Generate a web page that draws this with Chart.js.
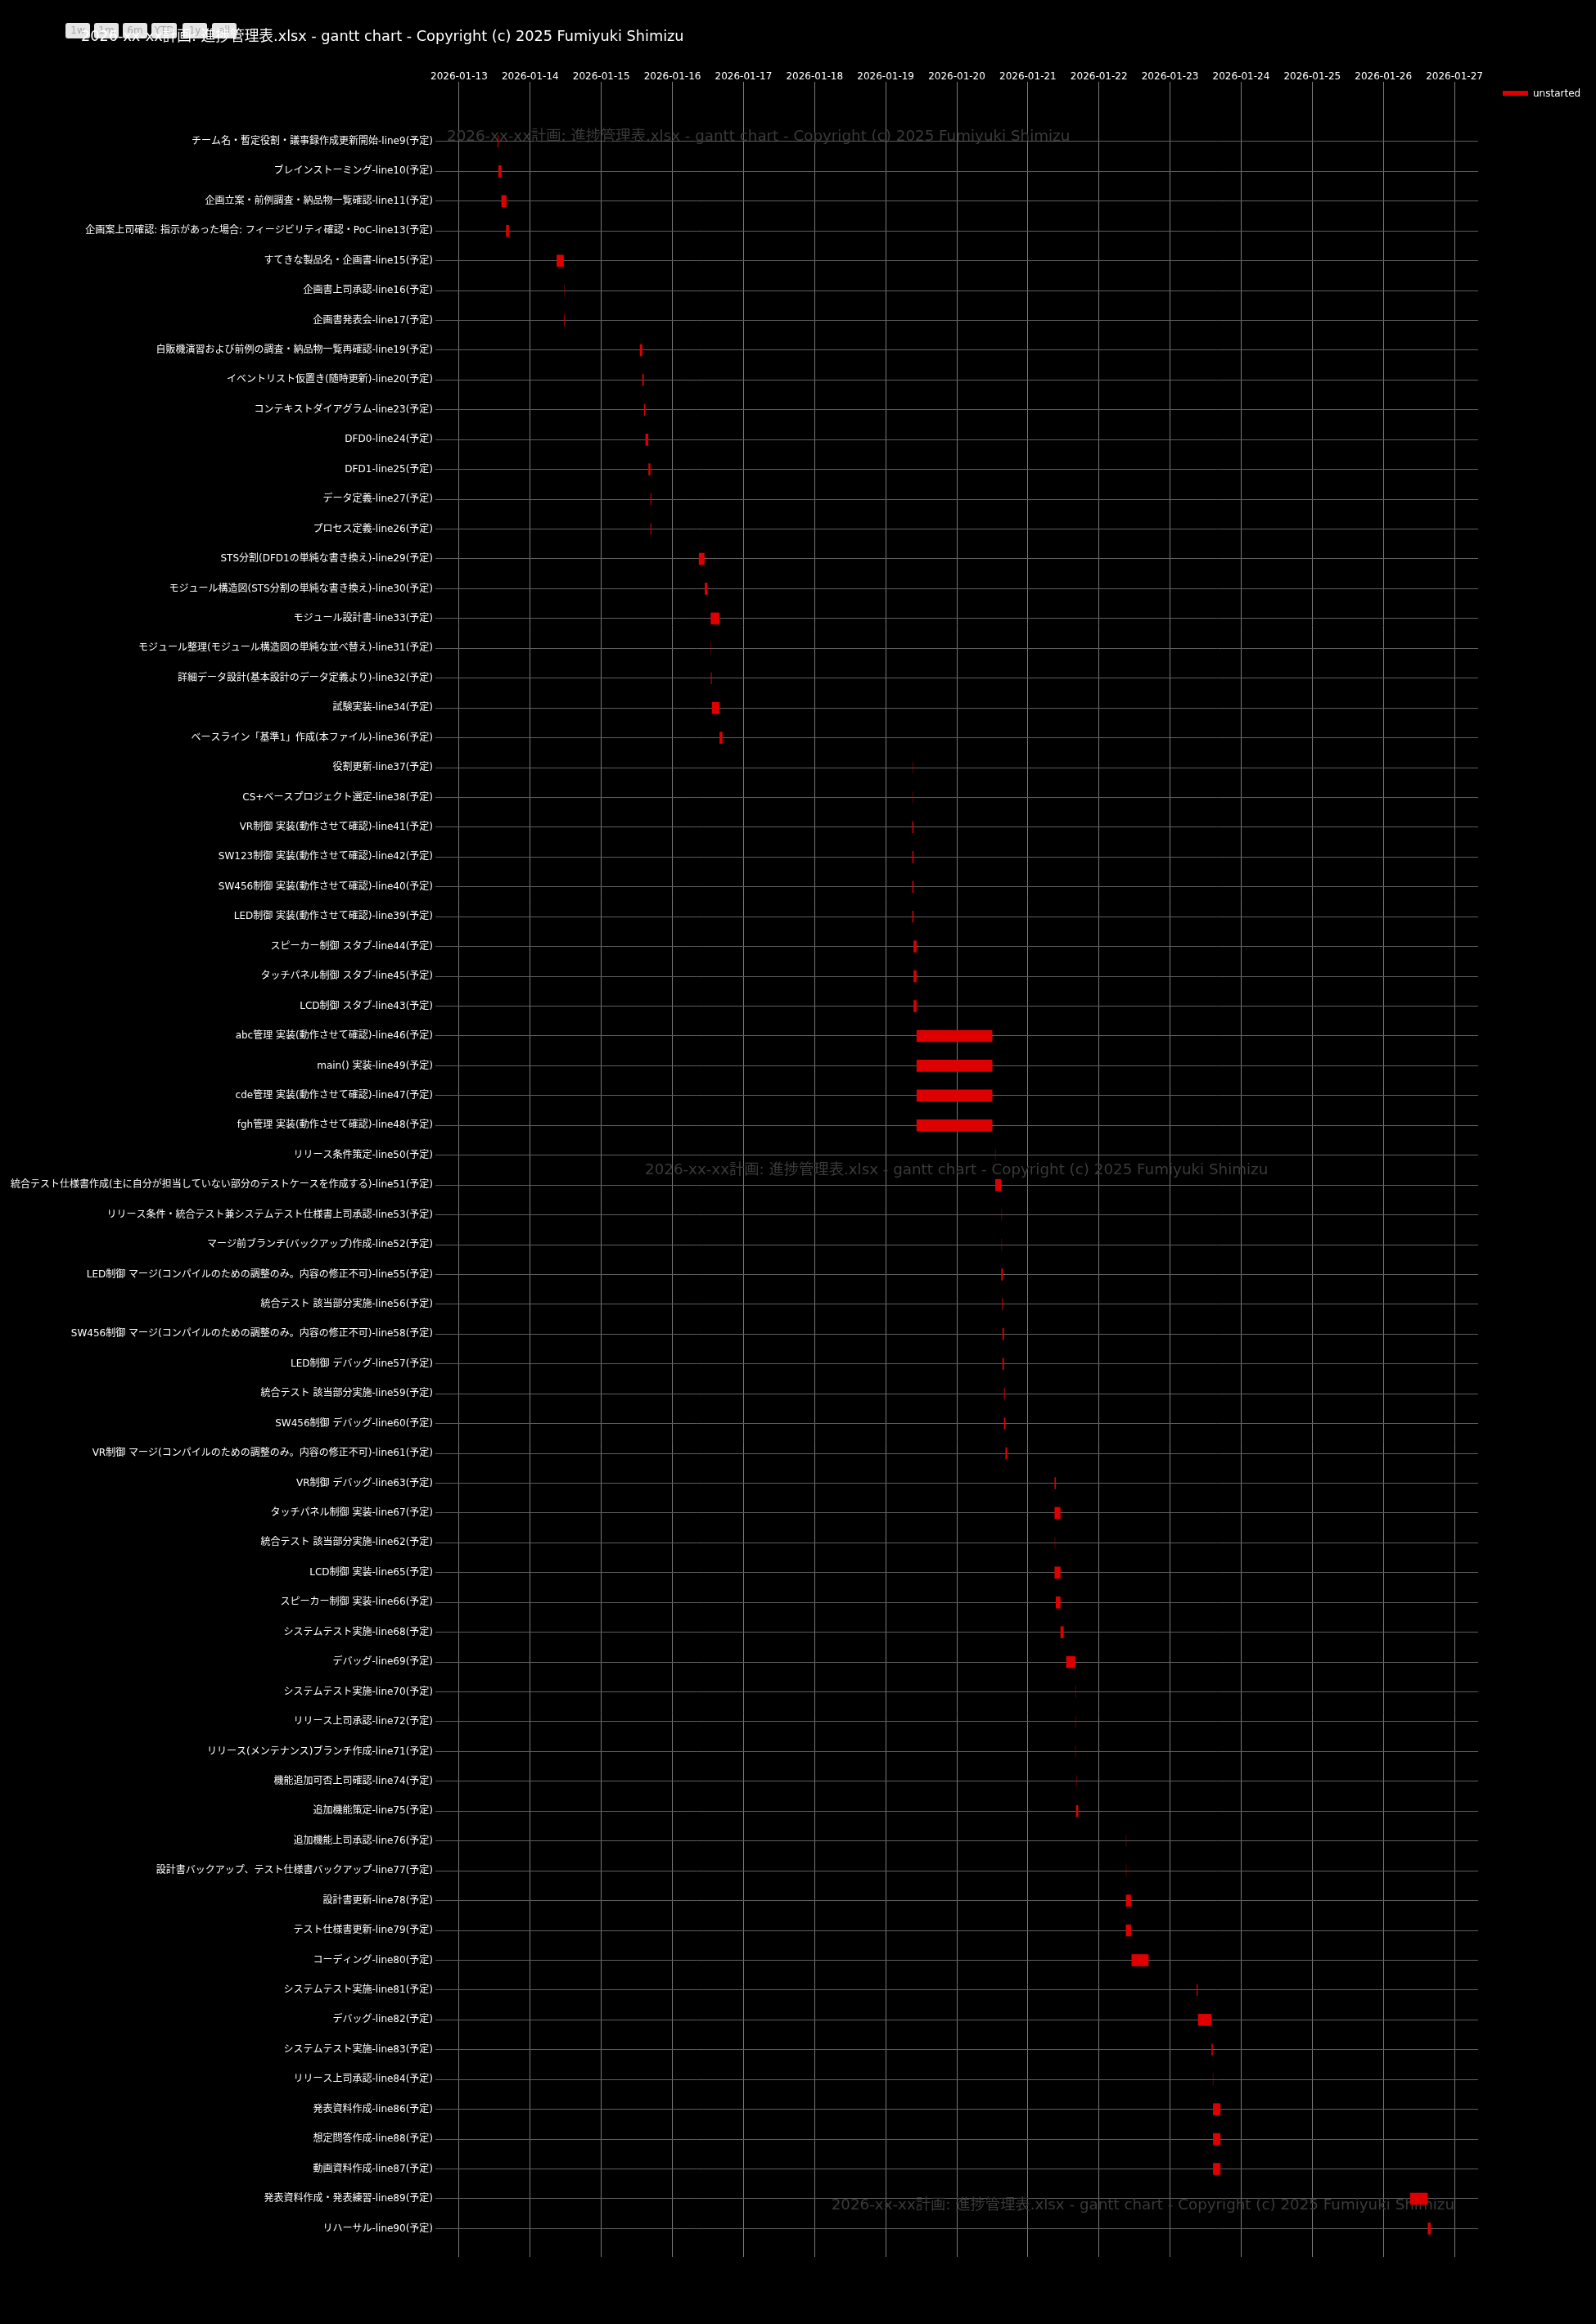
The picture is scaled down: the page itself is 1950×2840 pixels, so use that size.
<!DOCTYPE html>
<html>
<head>
<meta charset="utf-8">
<script src="https://cdn.jsdelivr.net/npm/chart.js@4/dist/chart.umd.min.js"></script>
<style>
  html, body { margin: 0; padding: 0; background: #000; }
  canvas { display: block; }
</style>
</head>
<body>
<canvas id="c" width="1950" height="2840"></canvas>
<script>
const titleText = '2026-xx-xx計画: 進捗管理表.xlsx - gantt chart - Copyright (c) 2025 Fumiyuki Shimizu';
const seriesName = 'unstarted';
const rangeButtons = ['1w', '1m', '6m', 'YTD', '1y', 'all'];
const dateTicks = ['2026-01-13','2026-01-14','2026-01-15','2026-01-16','2026-01-17','2026-01-18','2026-01-19','2026-01-20','2026-01-21','2026-01-22','2026-01-23','2026-01-24','2026-01-25','2026-01-26','2026-01-27'];
const axisRange = ['2026-01-12 16:00', '2026-01-27 08:00'];

const taskLabels = [
  'チーム名・暫定役割・議事録作成更新開始-line9(予定)',
  'ブレインストーミング-line10(予定)',
  '企画立案・前例調査・納品物一覧確認-line11(予定)',
  '企画案上司確認: 指示があった場合: フィージビリティ確認・PoC-line13(予定)',
  'すてきな製品名・企画書-line15(予定)',
  '企画書上司承認-line16(予定)',
  '企画書発表会-line17(予定)',
  '自販機演習および前例の調査・納品物一覧再確認-line19(予定)',
  'イベントリスト仮置き(随時更新)-line20(予定)',
  'コンテキストダイアグラム-line23(予定)',
  'DFD0-line24(予定)',
  'DFD1-line25(予定)',
  'データ定義-line27(予定)',
  'プロセス定義-line26(予定)',
  'STS分割(DFD1の単純な書き換え)-line29(予定)',
  'モジュール構造図(STS分割の単純な書き換え)-line30(予定)',
  'モジュール設計書-line33(予定)',
  'モジュール整理(モジュール構造図の単純な並べ替え)-line31(予定)',
  '詳細データ設計(基本設計のデータ定義より)-line32(予定)',
  '試験実装-line34(予定)',
  'ベースライン「基準1」作成(本ファイル)-line36(予定)',
  '役割更新-line37(予定)',
  'CS+ベースプロジェクト選定-line38(予定)',
  'VR制御 実装(動作させて確認)-line41(予定)',
  'SW123制御 実装(動作させて確認)-line42(予定)',
  'SW456制御 実装(動作させて確認)-line40(予定)',
  'LED制御 実装(動作させて確認)-line39(予定)',
  'スピーカー制御 スタブ-line44(予定)',
  'タッチパネル制御 スタブ-line45(予定)',
  'LCD制御 スタブ-line43(予定)',
  'abc管理 実装(動作させて確認)-line46(予定)',
  'main() 実装-line49(予定)',
  'cde管理 実装(動作させて確認)-line47(予定)',
  'fgh管理 実装(動作させて確認)-line48(予定)',
  'リリース条件策定-line50(予定)',
  '統合テスト仕様書作成(主に自分が担当していない部分のテストケースを作成する)-line51(予定)',
  'リリース条件・統合テスト兼システムテスト仕様書上司承認-line53(予定)',
  'マージ前ブランチ(バックアップ)作成-line52(予定)',
  'LED制御 マージ(コンパイルのための調整のみ。内容の修正不可)-line55(予定)',
  '統合テスト 該当部分実施-line56(予定)',
  'SW456制御 マージ(コンパイルのための調整のみ。内容の修正不可)-line58(予定)',
  'LED制御 デバッグ-line57(予定)',
  '統合テスト 該当部分実施-line59(予定)',
  'SW456制御 デバッグ-line60(予定)',
  'VR制御 マージ(コンパイルのための調整のみ。内容の修正不可)-line61(予定)',
  'VR制御 デバッグ-line63(予定)',
  'タッチパネル制御 実装-line67(予定)',
  '統合テスト 該当部分実施-line62(予定)',
  'LCD制御 実装-line65(予定)',
  'スピーカー制御 実装-line66(予定)',
  'システムテスト実施-line68(予定)',
  'デバッグ-line69(予定)',
  'システムテスト実施-line70(予定)',
  'リリース上司承認-line72(予定)',
  'リリース(メンテナンス)ブランチ作成-line71(予定)',
  '機能追加可否上司確認-line74(予定)',
  '追加機能策定-line75(予定)',
  '追加機能上司承認-line76(予定)',
  '設計書バックアップ、テスト仕様書バックアップ-line77(予定)',
  '設計書更新-line78(予定)',
  'テスト仕様書更新-line79(予定)',
  'コーディング-line80(予定)',
  'システムテスト実施-line81(予定)',
  'デバッグ-line82(予定)',
  'システムテスト実施-line83(予定)',
  'リリース上司承認-line84(予定)',
  '発表資料作成-line86(予定)',
  '想定問答作成-line88(予定)',
  '動画資料作成-line87(予定)',
  '発表資料作成・発表練習-line89(予定)',
  'リハーサル-line90(予定)'
];

const taskStart = [
  '2026-01-13 13:00','2026-01-13 13:15','2026-01-13 14:15','2026-01-13 15:50','2026-01-14 08:55',
  '2026-01-14 11:25','2026-01-14 11:30','2026-01-15 13:00','2026-01-15 13:50','2026-01-15 14:25',
  '2026-01-15 14:55','2026-01-15 15:55','2026-01-15 16:35','2026-01-15 16:35','2026-01-16 08:55',
  '2026-01-16 10:55','2026-01-16 12:55','2026-01-16 12:50','2026-01-16 13:00','2026-01-16 13:20',
  '2026-01-16 15:55','2026-01-19 09:00','2026-01-19 09:00','2026-01-19 09:00','2026-01-19 09:00',
  '2026-01-19 09:00','2026-01-19 09:00','2026-01-19 09:25','2026-01-19 09:25','2026-01-19 09:25',
  '2026-01-19 10:25','2026-01-19 10:25','2026-01-19 10:25','2026-01-19 10:25','2026-01-20 12:55',
  '2026-01-20 13:00','2026-01-20 15:00','2026-01-20 15:00','2026-01-20 15:00','2026-01-20 15:20',
  '2026-01-20 15:25','2026-01-20 15:25','2026-01-20 15:55','2026-01-20 15:55','2026-01-20 16:25',
  '2026-01-21 09:00','2026-01-21 09:00','2026-01-21 09:00','2026-01-21 09:00','2026-01-21 09:25',
  '2026-01-21 11:00','2026-01-21 12:55','2026-01-21 16:00','2026-01-21 16:00','2026-01-21 16:00',
  '2026-01-21 16:15','2026-01-21 16:15','2026-01-22 09:00','2026-01-22 09:05','2026-01-22 09:05',
  '2026-01-22 09:05','2026-01-22 11:00','2026-01-23 09:00','2026-01-23 09:25','2026-01-23 14:00',
  '2026-01-23 14:25','2026-01-23 14:30','2026-01-23 14:30','2026-01-23 14:30','2026-01-26 09:00',
  '2026-01-26 15:00'
];

const taskEnd = [
  '2026-01-13 13:15','2026-01-13 14:15','2026-01-13 16:00','2026-01-13 16:50','2026-01-14 11:20',
  '2026-01-14 11:25','2026-01-14 11:45','2026-01-15 13:50','2026-01-15 14:20','2026-01-15 14:50',
  '2026-01-15 15:50','2026-01-15 16:35','2026-01-15 16:50','2026-01-15 16:50','2026-01-16 10:50',
  '2026-01-16 11:50','2026-01-16 15:55','2026-01-16 12:50','2026-01-16 13:15','2026-01-16 15:55',
  '2026-01-16 16:55','2026-01-19 09:00','2026-01-19 09:00','2026-01-19 09:25','2026-01-19 09:25',
  '2026-01-19 09:25','2026-01-19 09:25','2026-01-19 10:25','2026-01-19 10:25','2026-01-19 10:25',
  '2026-01-20 12:00','2026-01-20 12:00','2026-01-20 12:00','2026-01-20 12:00','2026-01-20 12:55',
  '2026-01-20 15:00','2026-01-20 15:00','2026-01-20 15:00','2026-01-20 15:35','2026-01-20 15:35',
  '2026-01-20 15:55','2026-01-20 15:55','2026-01-20 16:10','2026-01-20 16:25','2026-01-20 17:00',
  '2026-01-21 09:25','2026-01-21 11:00','2026-01-21 09:00','2026-01-21 11:00','2026-01-21 11:00',
  '2026-01-21 12:05','2026-01-21 16:00','2026-01-21 16:00','2026-01-21 16:00','2026-01-21 16:00',
  '2026-01-21 16:15','2026-01-21 17:00','2026-01-22 09:00','2026-01-22 09:05','2026-01-22 10:50',
  '2026-01-22 10:50','2026-01-22 16:45','2026-01-23 09:20','2026-01-23 14:00','2026-01-23 14:25',
  '2026-01-23 14:25','2026-01-23 17:00','2026-01-23 17:00','2026-01-23 17:00','2026-01-26 15:00',
  '2026-01-26 16:00'
];

function toMs(s) {
  const parts = s.split(' ');
  const d = parts[0].split('-').map(Number);
  const t = (parts[1] || '00:00').split(':').map(Number);
  return Date.UTC(d[0], d[1] - 1, d[2], t[0], t[1]);
}
function fmtDate(ms) { return new Date(ms).toISOString().slice(0, 10); }

const FONT = "'DejaVu Sans', 'Noto Sans CJK JP', sans-serif";
const BAR_RED = 'rgb(222,0,0)';

const barData = taskLabels.map((_, i) => ({ y: i, x: [toMs(taskStart[i]), toMs(taskEnd[i])] }));

const decorPlugin = {
  id: 'decor',
  beforeDraw(chart) {
    const ctx = chart.ctx;
    ctx.save();
    ctx.fillStyle = '#000';
    ctx.fillRect(0, 0, chart.width, chart.height);
    // range selector buttons
    const btnX = [80, 115, 150, 185, 223, 259];
    const btnW = [30, 30, 30, 31, 30, 30];
    ctx.font = '12px ' + FONT;
    ctx.textAlign = 'center';
    ctx.textBaseline = 'middle';
    rangeButtons.forEach((b, i) => {
      ctx.fillStyle = '#e6e6e6';
      ctx.beginPath();
      if (ctx.roundRect) ctx.roundRect(btnX[i], 28, btnW[i], 19, 3); else ctx.rect(btnX[i], 28, btnW[i], 19);
      ctx.fill();
      ctx.fillStyle = '#a8a8a8';
      ctx.fillText(b, btnX[i] + btnW[i] / 2, 38);
    });
    // title
    ctx.font = '17.7px ' + FONT;
    ctx.textAlign = 'left';
    ctx.textBaseline = 'alphabetic';
    ctx.fillStyle = '#ffffff';
    ctx.fillText(titleText, 99, 50);
    ctx.restore();
  },
  beforeDatasetsDraw(chart) {
    const ctx = chart.ctx;
    ctx.save();
    ctx.font = '18.3px ' + FONT;
    ctx.fillStyle = '#3a3a3a';
    ctx.textBaseline = 'middle';
    ctx.textAlign = 'left';
    ctx.fillText(titleText, 546, 167);
    ctx.fillText(titleText, 788, 1430);
    ctx.textAlign = 'right';
    ctx.fillText(titleText, 1777, 2695);
    ctx.restore();
  },
  afterDraw(chart) {
    const ctx = chart.ctx;
    ctx.save();
    ctx.fillStyle = BAR_RED;
    ctx.fillRect(1836, 111, 31, 6);
    ctx.font = '12px ' + FONT;
    ctx.fillStyle = '#ffffff';
    ctx.textAlign = 'left';
    ctx.textBaseline = 'middle';
    ctx.fillText(chart.data.datasets[0].label, 1873, 114.5);
    ctx.restore();
  }
};

new Chart(document.getElementById('c'), {
  type: 'bar',
  data: {
    datasets: [{
      label: seriesName,
      data: barData,
      backgroundColor: (c) => {
        const r = c.raw;
        if (r && r.x && r.x[0] === r.x[1]) return 'rgba(222,0,0,0.4)';
        return BAR_RED;
      },
      borderWidth: 0,
      minBarLength: 1,
      barPercentage: 0.4,
      categoryPercentage: 1
    }]
  },
  options: {
    indexAxis: 'y',
    responsive: false,
    animation: false,
    devicePixelRatio: 1,
    layout: { padding: { left: 0, right: 144, top: 0, bottom: 82 } },
    plugins: {
      legend: { display: false },
      title: { display: false },
      tooltip: { enabled: false }
    },
    scales: {
      x: {
        type: 'linear',
        position: 'top',
        min: toMs(axisRange[0]),
        max: toMs(axisRange[1]),
        afterBuildTicks: (scale) => { scale.ticks = dateTicks.map(d => ({ value: toMs(d) })); },
        afterFit: (scale) => { scale.height = 100; },
        border: { display: false },
        grid: { color: '#7a7a7a', lineWidth: 1, drawTicks: false },
        ticks: {
          color: '#ffffff',
          font: { family: FONT, size: 12, lineHeight: 1.1 },
          padding: 0,
          autoSkip: false,
          maxRotation: 0,
          callback: (v) => fmtDate(v)
        }
      },
      y: {
        type: 'linear',
        reverse: true,
        offset: false,
        min: -2,
        max: 70.95,
        afterBuildTicks: (scale) => { scale.ticks = taskLabels.map((_, i) => ({ value: i })); },
        afterFit: (scale) => { scale.width = 532; },
        border: { display: false },
        grid: { color: '#5e5e5e', lineWidth: 1, drawTicks: false, offset: false },
        ticks: {
          color: '#ffffff',
          font: { family: FONT, size: 12 },
          padding: 3,
          autoSkip: false,
          callback: (v) => taskLabels[v] !== undefined ? taskLabels[v] : ''
        }
      }
    }
  },
  plugins: [decorPlugin]
});
</script>
</body>
</html>
